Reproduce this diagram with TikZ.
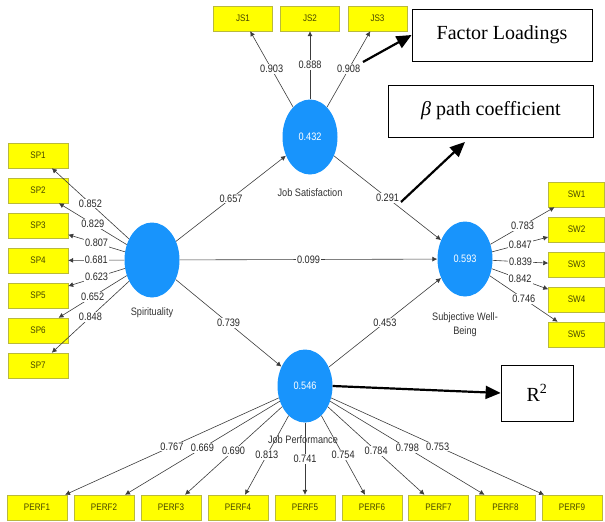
\documentclass[tikz,border=0pt]{standalone}
\usepackage{fontspec}
\setmainfont{Liberation Serif}
\newfontfamily\plsfont[FakeStretch=0.85]{Liberation Sans}
\usetikzlibrary{shapes.geometric,arrows.meta}
\definecolor{plsblue}{RGB}{24,148,252}
\definecolor{plsyellow}{RGB}{255,255,0}
\definecolor{boxline}{RGB}{185,185,60}
\definecolor{boxtext}{RGB}{70,70,0}
\definecolor{edgegray}{RGB}{60,60,60}

\begin{document}
\begin{tikzpicture}[x=1pt,y=-1pt,
  lv/.style={ellipse,fill=plsblue,minimum width=55pt,minimum height=75pt,inner sep=0pt,text=white,font=\plsfont\fontsize{10.8}{12}\selectfont},
  ind/.style={rectangle,draw=boxline,fill=plsyellow,minimum width=60pt,minimum height=25pt,inner sep=0pt,text=boxtext,font=\plsfont\fontsize{9.5}{11}\selectfont},
  lvname/.style={font=\plsfont\fontsize{10.8}{14}\selectfont,text=black!80,align=center},
  val/.style={fill=white,inner sep=1pt,font=\plsfont\fontsize{10.8}{12}\selectfont,text=black!85},
  edge/.style={draw=edgegray,line width=0.6pt,-{Latex[length=5pt,width=5pt]}},
  note/.style={draw,line width=0.8pt,fill=white,inner sep=0pt,font=\fontsize{20}{24}\selectfont},
  callout/.style={draw,line width=2.2pt,-{Triangle[length=15pt,width=13pt]}}]
\useasboundingbox (0,0) rectangle (605,522);

% latent variables
\node[lv] (sp) at (152,260) {};
\node[lvname] (spname) at (152,313) {Spirituality};
\node[lv] (js) at (310,137) {0.432};
\node[lvname] (jsname) at (310,193) {Job Satisfaction};
\node[lv] (sw) at (465,259) {0.593};
\node[lvname] (swname) at (465,325) {Subjective Well-\\Being};
\node[lv,minimum height=73pt] (jp) at (305,386) {0.546};
\node[lvname] (jpname) at (303,440) {Job Performance};

% spirituality items
\node[ind] (sp1) at (38,155.5) {SP1};
\node[ind] (sp2) at (38,190.5) {SP2};
\node[ind] (sp3) at (38,225.5) {SP3};
\node[ind] (sp4) at (38,260.5) {SP4};
\node[ind] (sp5) at (38,295.5) {SP5};
\node[ind] (sp6) at (38,330.5) {SP6};
\node[ind] (sp7) at (38,365.5) {SP7};
\path[edge] (sp) -- node[val] {0.852} (sp1);
\path[edge] (sp) -- node[val] {0.829} (sp2);
\path[edge] (sp) -- node[val] {0.807} (sp3);
\path[edge] (sp) -- node[val] {0.681} (sp4);
\path[edge] (sp) -- node[val] {0.623} (sp5);
\path[edge] (sp) -- node[val] {0.652} (sp6);
\path[edge] (sp) -- node[val] {0.848} (sp7);

% job satisfaction items
\node[ind,minimum width=59pt] (js1) at (243,18.5) {JS1};
\node[ind,minimum width=59pt] (js2) at (310,18.5) {JS2};
\node[ind,minimum width=59pt] (js3) at (377.5,18.5) {JS3};
\path[edge] (js) -- node[val] {0.903} (js1);
\path[edge] (js) -- node[val] {0.888} (js2);
\path[edge] (js) -- node[val] {0.908} (js3);

% well-being items
\node[ind,minimum width=56pt] (sw1) at (576.5,194.5) {SW1};
\node[ind,minimum width=56pt] (sw2) at (576.5,229.5) {SW2};
\node[ind,minimum width=56pt] (sw3) at (576.5,264.5) {SW3};
\node[ind,minimum width=56pt] (sw4) at (576.5,299.5) {SW4};
\node[ind,minimum width=56pt] (sw5) at (576.5,334.5) {SW5};
\path[edge] (sw) -- node[val] {0.783} (sw1);
\path[edge] (sw) -- node[val] {0.847} (sw2);
\path[edge] (sw) -- node[val] {0.839} (sw3);
\path[edge] (sw) -- node[val] {0.842} (sw4);
\path[edge] (sw) -- node[val] {0.746} (sw5);

% performance items
\node[ind] (perf1) at (37,507.5) {PERF1};
\node[ind] (perf2) at (104,507.5) {PERF2};
\node[ind] (perf3) at (171,507.5) {PERF3};
\node[ind] (perf4) at (238,507.5) {PERF4};
\node[ind] (perf5) at (305,507.5) {PERF5};
\node[ind] (perf6) at (372,507.5) {PERF6};
\node[ind] (perf7) at (438.5,507.5) {PERF7};
\node[ind] (perf8) at (505.5,507.5) {PERF8};
\node[ind] (perf9) at (572,507.5) {PERF9};
\path[edge] (jp) -- node[val] {0.767} (perf1);
\path[edge] (jp) -- node[val] {0.669} (perf2);
\path[edge] (jp) -- node[val] {0.690} (perf3);
\path[edge] (jp) -- node[val] {0.813} (perf4);
\path[edge] (jp) -- node[val] {0.741} (perf5);
\path[edge] (jp) -- node[val] {0.754} (perf6);
\path[edge] (jp) -- node[val] {0.784} (perf7);
\path[edge] (jp) -- node[val] {0.798} (perf8);
\path[edge] (jp) -- node[val] {0.753} (perf9);

% structural paths
\path[edge] (sp) -- node[val] {0.657} (js);
\path[edge] (sp) -- node[val] {0.099} (sw);
\path[edge] (sp) -- node[val] {0.739} (jp);
\path[edge] (js) -- node[val] {0.291} (sw);
\path[edge] (jp) -- node[val] {0.453} (sw);

% callouts
\node[note,minimum width=180pt,minimum height=52pt] (factor) at (502,35) {Factor Loadings};
\node[note,minimum width=205pt,minimum height=52pt] (beta) at (491,111) {\textit{β} path coefficient};
\node[note,minimum width=72pt,minimum height=56pt] (r2) at (537,393) {R\textsuperscript{2}};
\coordinate (flstart) at (363,62);
\coordinate (bstart) at (401,202);
\coordinate (bend) at (465,142);
\path[callout] (flstart) -- (factor.west);
\path[callout] (bstart) -- (bend);
\path[callout] (jp.east) -- (r2.west);
\end{tikzpicture}
\end{document}
